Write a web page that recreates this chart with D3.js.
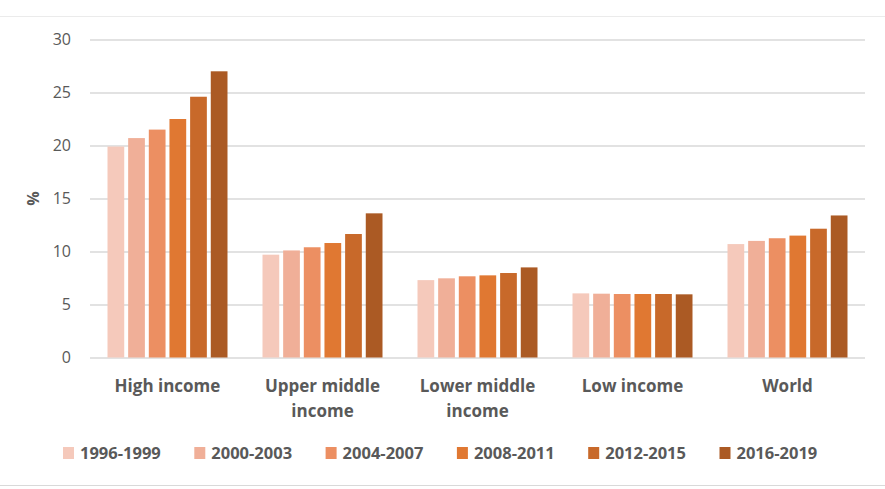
<!DOCTYPE html>
<html>
<head>
<meta charset="utf-8">
<script src="https://cdn.jsdelivr.net/npm/d3@7"></script>
<style>
  body { margin: 0; background: #fff; }
  svg { display: block; }
</style>
</head>
<body>
<div id="chart"></div>
<script>
// data
const categories = [['High income'], ['Upper middle', 'income'], ['Lower middle', 'income'], ['Low income'], ['World']];
const periods = ['1996-1999', '2000-2003', '2004-2007', '2008-2011', '2012-2015', '2016-2019'];
const colors = ['#F5C9BB', '#F0AF98', '#EC8F62', '#E07832', '#C8692A', '#AB5A24'];
// one row per category, one value per period (%)
const values = [
  [19.9, 20.7, 21.5, 22.5, 24.6, 27.0],
  [9.7, 10.1, 10.4, 10.8, 11.65, 13.6],
  [7.3, 7.47, 7.66, 7.75, 7.97, 8.5],
  [6.05, 6.02, 5.99, 5.99, 5.99, 5.96],
  [10.7, 11.0, 11.25, 11.5, 12.15, 13.4]
];
const yTicks = [0, 5, 10, 15, 20, 25, 30];

const width = 885, height = 489;
const margin = { top: 39.5, right: 20, bottom: 131.5, left: 90 };
const innerW = width - margin.left - margin.right;
const innerH = height - margin.top - margin.bottom;

const svg = d3.select('#chart')
  .append('svg')
  .attr('width', width)
  .attr('height', height);

// chart frame lines top and bottom
svg.append('line').attr('x1', 0).attr('x2', width).attr('y1', 16.5).attr('y2', 16.5)
  .attr('stroke', '#EBEBEB');
svg.append('line').attr('x1', 0).attr('x2', width).attr('y1', 485.5).attr('y2', 485.5)
  .attr('stroke', '#D9D9D9');

const g = svg.append('g')
  .attr('transform', `translate(${margin.left}, ${margin.top})`);

const x0 = d3.scaleBand()
  .domain(d3.range(categories.length))
  .range([0, innerW]);

const gap = 35;
const x1 = d3.scaleBand()
  .domain(periods)
  .range([gap / 2, x0.bandwidth() - gap / 2])
  .paddingInner(0.19)
  .paddingOuter(0);

const y = d3.scaleLinear()
  .domain([0, 30])
  .range([innerH, 0]);

// gridlines
g.selectAll('.grid')
  .data(yTicks)
  .enter()
  .append('line')
  .attr('class', 'grid')
  .attr('x1', 0)
  .attr('x2', innerW)
  .attr('y1', (d) => Math.round(y(d)) + 0.5)
  .attr('y2', (d) => Math.round(y(d)) + 0.5)
  .attr('stroke', '#D9D9D9')
  .attr('stroke-width', 1.3);

// y axis labels
const yAxis = d3.axisLeft(y).tickValues(yTicks).tickSize(0).tickPadding(19);
g.append('g')
  .call(yAxis)
  .call((a) => a.select('.domain').remove())
  .selectAll('text')
  .style('font-family', '"Open Sans", sans-serif')
  .style('font-size', '16px')
  .attr('fill', '#595959');

svg.append('text')
  .attr('transform', `translate(39, ${margin.top + innerH / 2}) rotate(-90)`)
  .attr('text-anchor', 'middle')
  .style('font-family', '"Open Sans", sans-serif')
  .style('font-size', '16px')
  .style('font-weight', 'bold')
  .attr('fill', '#595959')
  .text('%');

// bars
const groups = g.selectAll('.group')
  .data(values)
  .enter()
  .append('g')
  .attr('class', 'group')
  .attr('transform', (d, i) => `translate(${x0(i)}, 0)`);

groups.selectAll('rect')
  .data((d) => d.map((v, j) => ({ period: periods[j], value: v, color: colors[j] })))
  .enter()
  .append('rect')
  .attr('x', (d) => x1(d.period))
  .attr('width', x1.bandwidth())
  .attr('y', (d) => y(d.value))
  .attr('height', (d) => innerH - y(d.value))
  .attr('fill', (d) => d.color);

// category labels
const labels = g.selectAll('.cat')
  .data(categories)
  .enter()
  .append('text')
  .attr('class', 'cat')
  .attr('x', (d, i) => x0(i) + x0.bandwidth() / 2)
  .attr('y', innerH + 34)
  .attr('text-anchor', 'middle')
  .style('font-family', '"Open Sans", sans-serif')
  .style('font-size', '17px')
  .style('font-weight', 'bold')
  .attr('fill', '#595959');

labels.selectAll('tspan')
  .data((d) => d)
  .enter()
  .append('tspan')
  .attr('x', function () { return d3.select(this.parentNode).attr('x'); })
  .attr('dy', (d, i) => (i === 0 ? 0 : 25))
  .text((d) => d);

// legend
const legend = svg.append('g')
  .attr('transform', 'translate(63, 453)');

const item = legend.selectAll('.item')
  .data(periods)
  .enter()
  .append('g')
  .attr('class', 'item')
  .attr('transform', (d, i) => `translate(${i * 131.3}, 0)`);

item.append('rect')
  .attr('x', 0)
  .attr('y', -6)
  .attr('width', 11)
  .attr('height', 12)
  .attr('fill', (d, i) => colors[i]);

item.append('text')
  .attr('x', 17)
  .attr('y', 6)
  .style('font-family', '"Open Sans", sans-serif')
  .style('font-size', '16.5px')
  .style('font-weight', 'bold')
  .attr('fill', '#595959')
  .text((d) => d);
</script>
</body>
</html>
